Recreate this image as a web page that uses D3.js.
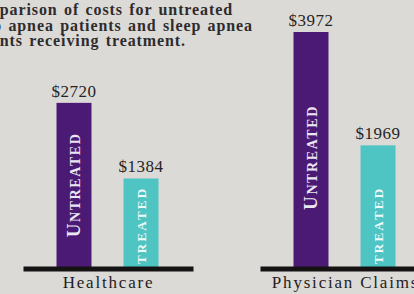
<!DOCTYPE html>
<html>
<head>
<meta charset="utf-8">
<script src="https://cdn.jsdelivr.net/npm/d3@7"></script>
<style>
  html, body { margin: 0; padding: 0; background: #dcdad7; }
  svg { display: block; }
</style>
</head>
<body>
<svg id="chart"></svg>
<script>
// data
var categories = ["Healthcare", "Physician Claims"];
var series = ["untreated", "treated"];
var untreatedCosts = [2720, 3972];
var treatedCosts = [1384, 1969];
var titleLines = [
  "Comparison of costs for untreated",
  "sleep apnea patients and sleep apnea",
  "patients receiving treatment."
];

var width = 414, height = 294;
var baseY = 267;
var serif = "'Liberation Serif', 'DejaVu Serif', serif";

var svg = d3.select("#chart")
  .attr("width", width)
  .attr("height", height)
  .attr("viewBox", [0, 0, width, height]);

var colors = {untreated: "#4a1a74", treated: "#4ec4c3"};

var x0 = d3.scalePoint().domain(categories).range([107.5, 344.5]);
var x1 = d3.scaleBand().domain(series).range([-51, 51]).paddingInner(0.478);
var y = d3.scaleLinear().domain([-180, 3972]).range([baseY, 32]);

var rows = categories.map(function(c, i) {
  return {cat: c, values: [
    {key: "untreated", v: untreatedCosts[i]},
    {key: "treated", v: treatedCosts[i]}
  ]};
});

// title, clipped on the left like the original
svg.append("g")
  .selectAll("text")
  .data(titleLines)
  .join("text")
    .attr("x", function(d, i) { return [233, 253, 186][i]; })
    .attr("y", function(d, i) { return 15 + i * 15.5; })
    .attr("text-anchor", "end")
    .attr("font-family", serif)
    .attr("font-size", 16)
    .attr("font-weight", "bold")
    .attr("letter-spacing", 0.9)
    .attr("word-spacing", 1.5)
    .attr("fill", "#2e2c2c")
    .text(function(d) { return d; });

var groups = svg.append("g")
  .selectAll("g")
  .data(rows)
  .join("g")
    .attr("transform", function(d) { return "translate(" + x0(d.cat) + ",0)"; });

groups.selectAll("rect")
  .data(function(d) { return d.values; })
  .join("rect")
    .attr("x", function(d) { return x1(d.key); })
    .attr("y", function(d) { return y(d.v); })
    .attr("width", x1.bandwidth())
    .attr("height", function(d) { return baseY - y(d.v); })
    .attr("fill", function(d) { return colors[d.key]; });

// value labels
groups.selectAll("text.val")
  .data(function(d) { return d.values; })
  .join("text")
    .attr("class", "val")
    .attr("x", function(d) { return x1(d.key) + x1.bandwidth() / 2; })
    .attr("y", function(d) { return y(d.v) - 6; })
    .attr("text-anchor", "middle")
    .attr("font-family", serif)
    .attr("font-size", 17)
    .attr("letter-spacing", 0.5)
    .attr("fill", "#262424")
    .text(function(d) { return "$" + d.v; });

// rotated labels inside the bars
groups.each(function(d, i) {
  var g = d3.select(this);
  var u = d.values[0];
  var ux = x1("untreated") + x1.bandwidth() / 2 + 6;
  var uy = (y(u.v) + baseY) / 2 + (i ? 8 : 0);
  var ut = g.append("text")
    .attr("transform", "translate(" + ux + "," + uy + ") rotate(-90)")
    .attr("text-anchor", "middle")
    .attr("font-family", serif)
    .attr("font-weight", "bold")
    .attr("letter-spacing", 1.6)
    .attr("fill", "#ece6f2");
  ut.append("tspan").attr("font-size", 19).text("U");
  ut.append("tspan").attr("font-size", 14).text("NTREATED");

  var tx = x1("treated") + x1.bandwidth() / 2 + 5;
  g.append("text")
    .attr("transform", "translate(" + tx + "," + (baseY - 3) + ") rotate(-90)")
    .attr("font-family", serif)
    .attr("font-size", 13)
    .attr("font-weight", "bold")
    .attr("letter-spacing", 2.2)
    .attr("fill", "#eef9f9")
    .text("TREATED");
});

// baselines
groups.append("line")
  .attr("x1", -84)
  .attr("x2", 86)
  .attr("y1", baseY + 2)
  .attr("y2", baseY + 2)
  .attr("stroke", "#141212")
  .attr("stroke-width", 5);

// category labels
groups.append("text")
  .attr("x", 1)
  .attr("y", 288)
  .attr("text-anchor", "middle")
  .attr("font-family", serif)
  .attr("font-size", 17)
  .attr("letter-spacing", 1.8)
  .attr("fill", "#1e1c1c")
  .text(function(d) { return d.cat; });
</script>
</body>
</html>
